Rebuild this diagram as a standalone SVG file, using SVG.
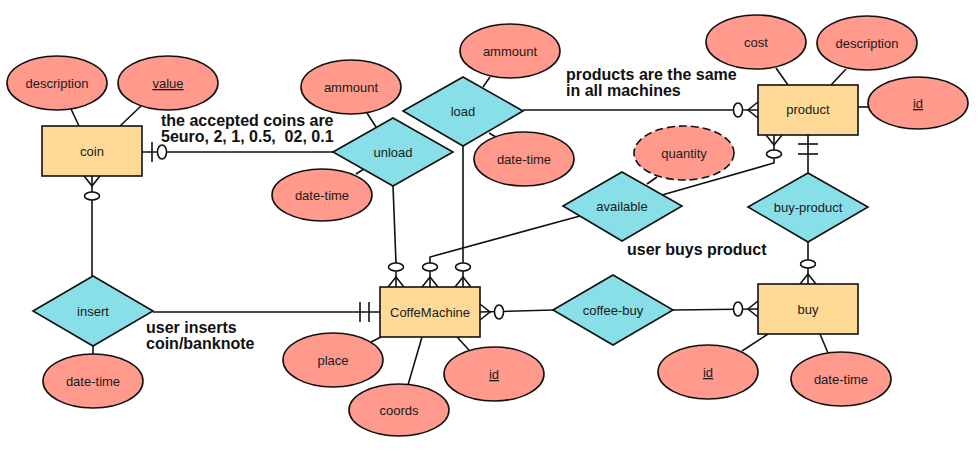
<svg xmlns="http://www.w3.org/2000/svg" width="977" height="457" viewBox="0 0 977 457">
<style>
.ent{fill:#FFDA97;stroke:#111;stroke-width:1.6}
.att{fill:#FF9A8D;stroke:#111;stroke-width:1.6}
.dash{stroke-dasharray:8 4}
.rel{fill:#88DFE8;stroke:#111;stroke-width:1.6}
.ln{fill:none;stroke:#111;stroke-width:1.6}
.mk{fill:#fff;stroke:#111;stroke-width:1.6}
.t{font-family:"Liberation Sans",Arial,sans-serif;font-size:13px;fill:#1a1a1a;text-anchor:middle}
.u{text-decoration:underline}
.lbl{font-family:"Liberation Sans",Arial,sans-serif;font-size:16px;font-weight:bold;fill:#111;white-space:pre}
</style>
<rect width="977" height="457" fill="#fff"/>
<g id="connectors">
  <line class="ln" x1="71" y1="109" x2="79" y2="126"/>
  <line class="ln" x1="141" y1="106" x2="120" y2="126"/>
  <line class="ln" x1="367" y1="113" x2="376" y2="127"/>
  <line class="ln" x1="356" y1="174" x2="364" y2="169"/>
  <line class="ln" x1="483" y1="87" x2="490" y2="77"/>
  <line class="ln" x1="489" y1="133" x2="496" y2="137"/>
  <line class="ln" x1="776" y1="68" x2="788" y2="85"/>
  <line class="ln" x1="846" y1="69" x2="831" y2="85"/>
  <line class="ln" x1="858" y1="107" x2="868" y2="107"/>
  <line class="ln" x1="647" y1="184" x2="657" y2="177"/>
  <line class="ln" x1="742" y1="351" x2="768" y2="334"/>
  <line class="ln" x1="828" y1="353" x2="820" y2="334"/>
  <line class="ln" x1="371" y1="342" x2="381" y2="337"/>
  <line class="ln" x1="408" y1="385" x2="422" y2="337"/>
  <line class="ln" x1="469" y1="350" x2="457" y2="337"/>
  <line class="ln" x1="93" y1="346" x2="93" y2="354"/>
  <line class="ln" x1="142" y1="152" x2="333" y2="152"/>
  <line class="ln" x1="152" y1="142" x2="152" y2="162"/>
  <ellipse class="mk" cx="162" cy="152" rx="4.5" ry="7"/>
  <line class="ln" x1="92" y1="200" x2="92" y2="277"/>
  <polyline class="ln" points="84,176 92,186 100,176"/>
  <line class="ln" x1="92" y1="176" x2="92" y2="192"/>
  <ellipse class="mk" cx="92" cy="196" rx="7.5" ry="4"/>
  <line class="ln" x1="153" y1="312" x2="380" y2="312"/>
  <line class="ln" x1="360" y1="302" x2="360" y2="322"/>
  <line class="ln" x1="369" y1="302" x2="369" y2="322"/>
  <line class="ln" x1="393" y1="186" x2="396" y2="263"/>
  <polyline class="ln" points="388,287 396,277 404,287"/>
  <line class="ln" x1="396" y1="271" x2="396" y2="287"/>
  <ellipse class="mk" cx="396" cy="267" rx="7.5" ry="4"/>
  <polyline class="ln" points="580,216 430,257 430,263"/>
  <polyline class="ln" points="422,287 430,277 438,287"/>
  <line class="ln" x1="430" y1="271" x2="430" y2="287"/>
  <ellipse class="mk" cx="430" cy="267" rx="7.5" ry="4"/>
  <line class="ln" x1="463" y1="146" x2="463" y2="263"/>
  <polyline class="ln" points="455,287 463,277 471,287"/>
  <line class="ln" x1="463" y1="271" x2="463" y2="287"/>
  <ellipse class="mk" cx="463" cy="267" rx="7.5" ry="4"/>
  <line class="ln" x1="523" y1="110" x2="758" y2="110"/>
  <polyline class="ln" points="758,102 748,110 758,118"/>
  <ellipse class="mk" cx="738" cy="110" rx="4.5" ry="7"/>
  <polyline class="ln" points="774,158 774,163 662,195"/>
  <polyline class="ln" points="766,135 774,145 782,135"/>
  <line class="ln" x1="774" y1="135" x2="774" y2="150"/>
  <ellipse class="mk" cx="774" cy="154" rx="7.5" ry="4"/>
  <line class="ln" x1="808" y1="135" x2="808" y2="173"/>
  <line class="ln" x1="798" y1="144" x2="818" y2="144"/>
  <line class="ln" x1="798" y1="154" x2="818" y2="154"/>
  <line class="ln" x1="808" y1="242" x2="808" y2="260"/>
  <polyline class="ln" points="800,284 808,274 816,284"/>
  <line class="ln" x1="808" y1="268" x2="808" y2="284"/>
  <ellipse class="mk" cx="808" cy="264" rx="7.5" ry="4"/>
  <line class="ln" x1="480" y1="312" x2="553" y2="310"/>
  <polyline class="ln" points="480,304 490,312 480,320"/>
  <ellipse class="mk" cx="499" cy="312" rx="4.5" ry="7"/>
  <line class="ln" x1="673" y1="310" x2="758" y2="309"/>
  <polyline class="ln" points="758,301 748,309 758,317"/>
  <ellipse class="mk" cx="738" cy="309" rx="4.5" ry="7"/>
</g>
<g id="coin"><rect class="ent" x="42" y="126" width="100" height="50"/><text class="t" x="92" y="156">coin</text></g>
<g id="coin-description"><ellipse class="att" cx="57" cy="83" rx="50" ry="27"/><text class="t" x="57" y="88">description</text></g>
<g id="coin-value"><ellipse class="att" cx="168" cy="83" rx="50" ry="27"/><text class="t u" x="168" y="88">value</text></g>
<g id="unload"><polygon class="rel" points="333,152 393,118 453,152 393,186"/><text class="t" x="393" y="157">unload</text></g>
<g id="unload-ammount"><ellipse class="att" cx="351" cy="87" rx="50" ry="27"/><text class="t" x="351" y="92">ammount</text></g>
<g id="unload-date-time"><ellipse class="att" cx="322" cy="195" rx="50" ry="26"/><text class="t" x="322" y="200">date-time</text></g>
<g id="load"><polygon class="rel" points="403,111 463,77 523,111 463,146"/><text class="t" x="463" y="116">load</text></g>
<g id="load-ammount"><ellipse class="att" cx="510" cy="51" rx="50" ry="27"/><text class="t" x="510" y="56">ammount</text></g>
<g id="load-date-time"><ellipse class="att" cx="524" cy="159" rx="50" ry="27"/><text class="t" x="524" y="164">date-time</text></g>
<g id="product"><rect class="ent" x="758" y="85" width="100" height="50"/><text class="t" x="808" y="114">product</text></g>
<g id="product-cost"><ellipse class="att" cx="756" cy="42" rx="50" ry="27"/><text class="t" x="756" y="47">cost</text></g>
<g id="product-description"><ellipse class="att" cx="867" cy="43" rx="50" ry="27"/><text class="t" x="867" y="48">description</text></g>
<g id="product-id"><ellipse class="att" cx="918" cy="103" rx="50" ry="26"/><text class="t u" x="918" y="108">id</text></g>
<g id="available"><polygon class="rel" points="563,206 622,172 682,206 622,241"/><text class="t" x="622" y="211">available</text></g>
<g id="quantity"><ellipse class="att dash" cx="684" cy="153" rx="50" ry="27"/><text class="t" x="684" y="158">quantity</text></g>
<g id="buy-product"><polygon class="rel" points="748,207 808,173 868,207 808,242"/><text class="t" x="808" y="212">buy-product</text></g>
<g id="CoffeMachine"><rect class="ent" x="380" y="287" width="100" height="50"/><text class="t" x="430" y="317">CoffeMachine</text></g>
<g id="cm-place"><ellipse class="att" cx="333" cy="360" rx="50" ry="27"/><text class="t" x="333" y="365">place</text></g>
<g id="cm-coords"><ellipse class="att" cx="399" cy="410" rx="50" ry="26"/><text class="t" x="399" y="415">coords</text></g>
<g id="cm-id"><ellipse class="att" cx="494" cy="374" rx="50" ry="27"/><text class="t u" x="494" y="379">id</text></g>
<g id="coffee-buy"><polygon class="rel" points="553,310 613,275 673,310 613,345"/><text class="t" x="613" y="315">coffee-buy</text></g>
<g id="buy"><rect class="ent" x="758" y="284" width="100" height="50"/><text class="t" x="808" y="314">buy</text></g>
<g id="buy-id"><ellipse class="att" cx="708" cy="372" rx="50" ry="27"/><text class="t u" x="708" y="377">id</text></g>
<g id="buy-date-time"><ellipse class="att" cx="841" cy="379" rx="50" ry="27"/><text class="t" x="841" y="384">date-time</text></g>
<g id="insert"><polygon class="rel" points="33,311 93,276 153,311 93,346"/><text class="t" x="93" y="316">insert</text></g>
<g id="insert-date-time"><ellipse class="att" cx="93" cy="381" rx="50" ry="27"/><text class="t" x="93" y="386">date-time</text></g>
<g id="labels">
  <text class="lbl" x="161" y="126">the accepted coins are</text>
  <text class="lbl" x="161" y="142" xml:space="preserve">5euro, 2, 1, 0.5,  02, 0.1</text>
  <text class="lbl" x="566" y="80">products are the same</text>
  <text class="lbl" x="566" y="96">in all machines</text>
  <text class="lbl" x="627" y="255">user buys product</text>
  <text class="lbl" x="146" y="333">user inserts</text>
  <text class="lbl" x="146" y="349">coin/banknote</text>
</g>
</svg>
